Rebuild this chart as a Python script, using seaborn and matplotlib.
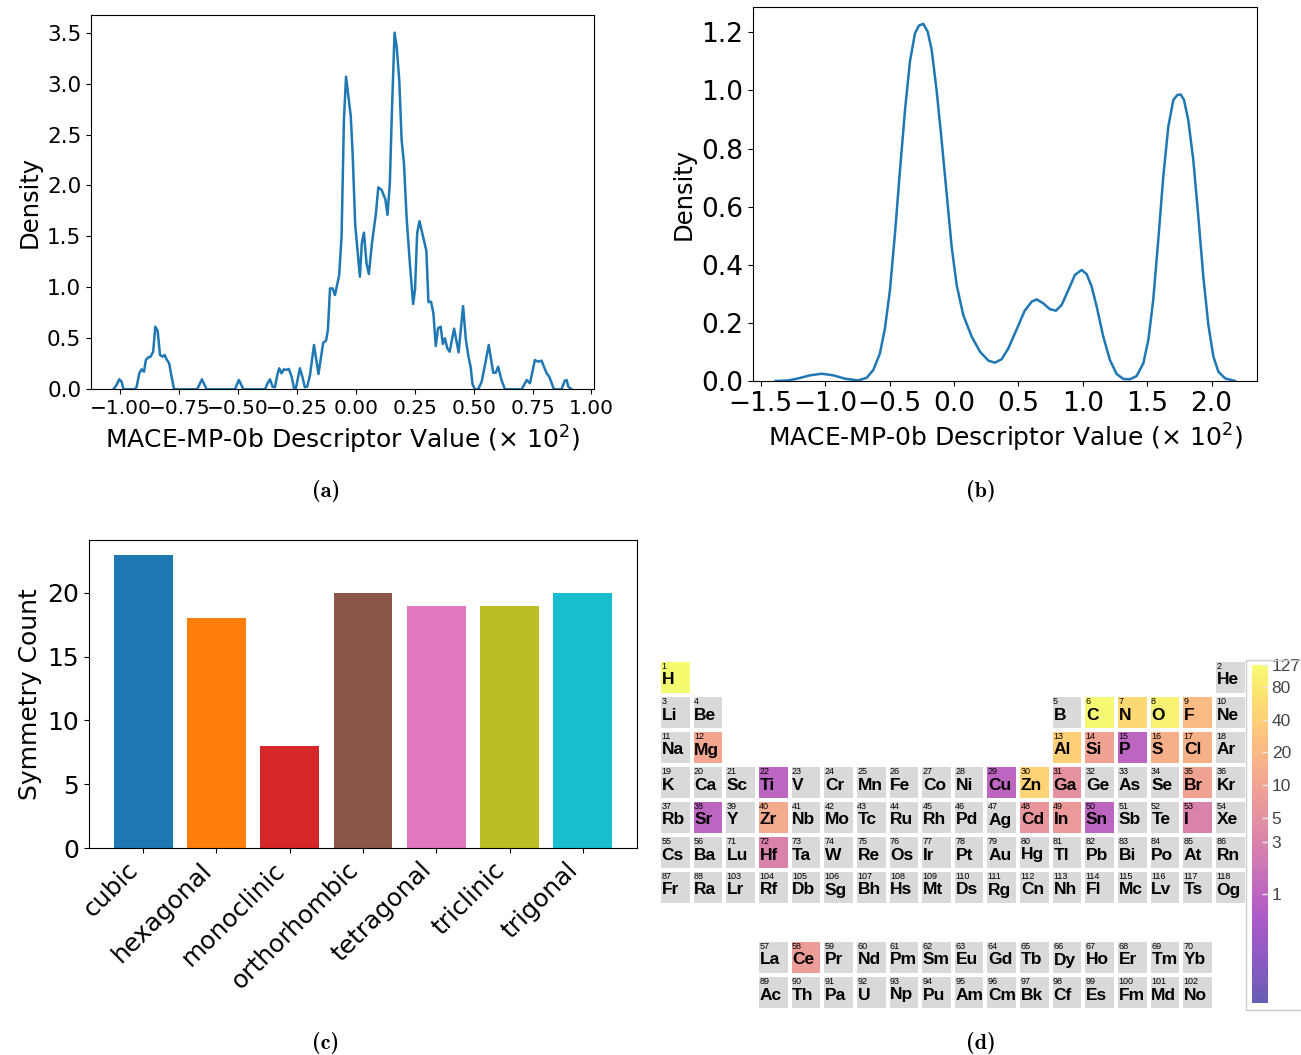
import os
import numpy as np
import pandas as pd
import matplotlib
matplotlib.use("Agg")
import matplotlib.pyplot as plt
import seaborn as sns
from matplotlib.colors import ListedColormap, LogNorm
from matplotlib.ticker import MultipleLocator, NullLocator
from matplotlib.patches import Rectangle
from matplotlib.font_manager import FontProperties

# ---------------- data ----------------
# (a) density curve
a_x = [-1.030, -1.017, -1.005, -0.995, -0.987, -0.938, -0.931, -0.920, -0.910, -0.900,
       -0.892, -0.882, -0.872, -0.861, -0.852, -0.842, -0.832, -0.821, -0.812, -0.804,
       -0.793, -0.783, -0.773, -0.767, -0.674, -0.664, -0.654, -0.644, -0.634, -0.514,
       -0.505, -0.497, -0.488, -0.478, -0.386, -0.375, -0.365, -0.354, -0.344, -0.334,
       -0.326, -0.316, -0.306, -0.294, -0.285, -0.273, -0.263, -0.256, -0.247, -0.238,
       -0.227, -0.217, -0.207, -0.195, -0.178, -0.159, -0.139, -0.127, -0.119, -0.110,
       -0.099, -0.089, -0.071, -0.061, -0.051, -0.042, -0.022, -0.014, -0.003, 0.017,
       0.025, 0.034, 0.045, 0.055, 0.068, 0.085, 0.095, 0.109, 0.125, 0.134,
       0.144, 0.153, 0.164, 0.173, 0.184, 0.194, 0.204, 0.215, 0.229, 0.243,
       0.251, 0.260, 0.270, 0.285, 0.299, 0.308, 0.319, 0.329, 0.339, 0.349,
       0.360, 0.369, 0.378, 0.388, 0.398, 0.417, 0.436, 0.455, 0.467, 0.478,
       0.487, 0.495, 0.505, 0.519, 0.534, 0.548, 0.564, 0.583, 0.594, 0.604,
       0.618, 0.633, 0.704, 0.725, 0.739, 0.760, 0.774, 0.788, 0.810, 0.821,
       0.841, 0.873, 0.887, 0.895, 0.902, 0.916]
a_y = [0.0, 0.040, 0.098, 0.075, 0.0, 0.0, 0.026, 0.157, 0.196, 0.173,
       0.287, 0.313, 0.320, 0.369, 0.614, 0.575, 0.337, 0.320, 0.337, 0.294,
       0.255, 0.124, 0.010, 0.0, 0.0, 0.050, 0.098, 0.050, 0.0, 0.0,
       0.050, 0.092, 0.050, 0.0, 0.0, 0.060, 0.098, 0.026, 0.020, 0.140,
       0.206, 0.157, 0.196, 0.190, 0.200, 0.124, 0.010, 0.0, 0.100, 0.206,
       0.120, 0.020, 0.026, 0.140, 0.435, 0.150, 0.458, 0.477, 0.582, 0.990,
       0.990, 0.925, 1.121, 1.497, 2.642, 3.068, 2.682, 2.316, 1.612, 1.105,
       1.432, 1.537, 1.236, 1.131, 1.432, 1.727, 1.982, 1.956, 1.864, 1.711,
       2.022, 2.741, 3.500, 3.363, 3.036, 2.447, 2.218, 1.694, 1.236, 0.837,
       0.980, 1.531, 1.650, 1.498, 1.360, 0.855, 0.860, 0.745, 0.425, 0.600,
       0.614, 0.445, 0.500, 0.402, 0.369, 0.595, 0.362, 0.817, 0.484, 0.320,
       0.222, 0.052, 0.0, 0.0, 0.075, 0.239, 0.435, 0.163, 0.163, 0.222,
       0.091, 0.0, 0.0, 0.091, 0.059, 0.287, 0.271, 0.281, 0.157, 0.124,
       0.0, 0.0, 0.085, 0.091, 0.026, 0.0]

# (b) density curve
b_x = [-1.385, -1.286, -1.209, -1.118, -1.027, -0.937, -0.846, -0.743, -0.678, -0.626,
       -0.575, -0.536, -0.497, -0.458, -0.419, -0.380, -0.342, -0.303, -0.272, -0.238,
       -0.204, -0.173, -0.135, -0.096, -0.057, -0.018, 0.021, 0.072, 0.137, 0.202,
       0.267, 0.318, 0.370, 0.422, 0.487, 0.548, 0.603, 0.642, 0.694, 0.745,
       0.792, 0.836, 0.888, 0.939, 0.991, 1.030, 1.069, 1.108, 1.159, 1.211,
       1.263, 1.315, 1.366, 1.418, 1.470, 1.509, 1.547, 1.586, 1.625, 1.664,
       1.703, 1.734, 1.760, 1.786, 1.819, 1.858, 1.897, 1.936, 1.975, 2.014,
       2.053, 2.105, 2.182]
b_y = [0.0, 0.002, 0.009, 0.0195, 0.025, 0.0195, 0.008, 0.002, 0.011, 0.038,
       0.095, 0.181, 0.313, 0.508, 0.726, 0.933, 1.099, 1.196, 1.223, 1.229,
       1.202, 1.139, 1.001, 0.829, 0.646, 0.462, 0.330, 0.227, 0.153, 0.101,
       0.070, 0.063, 0.075, 0.112, 0.178, 0.241, 0.273, 0.281, 0.267, 0.247,
       0.242, 0.262, 0.313, 0.365, 0.382, 0.368, 0.325, 0.256, 0.153, 0.072,
       0.024, 0.007, 0.006, 0.017, 0.061, 0.141, 0.279, 0.485, 0.703, 0.875,
       0.967, 0.984, 0.986, 0.967, 0.898, 0.761, 0.566, 0.359, 0.193, 0.084,
       0.032, 0.009, 0.0]

# (c) crystal systems
systems = ["cubic", "hexagonal", "monoclinic", "orthorhombic", "tetragonal", "triclinic", "trigonal"]
system_counts = [23, 18, 8, 20, 19, 19, 20]
system_colors = ["#1f77b4", "#ff7f0e", "#d62728", "#8c564b", "#e377c2", "#bcbd22", "#17becf"]

# (d) element counts
count_elements = ["H", "C", "O", "N", "Zn", "Al", "F", "Cl", "S", "Zr", "Mg", "Si", "Br",
                  "Ce", "In", "Cd", "Ga", "I", "Hf", "Cu", "P", "Sn", "Ti", "Sr"]
count_values = [127, 118, 100, 52, 45, 40, 22, 16, 15, 13, 11, 10, 10,
                8, 7, 6, 5, 3, 3, 1, 1, 1, 1, 1]
cbar_ticks = [1, 3, 5, 10, 20, 40, 80, 127]

symbols = ("H He Li Be B C N O F Ne Na Mg Al Si P S Cl Ar K Ca Sc Ti V Cr Mn Fe Co Ni Cu Zn "
           "Ga Ge As Se Br Kr Rb Sr Y Zr Nb Mo Tc Ru Rh Pd Ag Cd In Sn Sb Te I Xe Cs Ba La Ce "
           "Pr Nd Pm Sm Eu Gd Tb Dy Ho Er Tm Yb Lu Hf Ta W Re Os Ir Pt Au Hg Tl Pb Bi Po At Rn "
           "Fr Ra Ac Th Pa U Np Pu Am Cm Bk Cf Es Fm Md No Lr Rf Db Sg Bh Hs Mt Ds Rg Cn Nh Fl "
           "Mc Lv Ts Og").split()


def ptable_pos(z):
    """(row, col) 0-based layout of the periodic table used in the figure."""
    if z == 1:
        return 0, 0
    if z == 2:
        return 0, 17
    if z <= 10:
        return 1, (z - 3) if z <= 4 else (z - 5 + 12)
    if z <= 18:
        return 2, (z - 11) if z <= 12 else (z - 13 + 12)
    if z <= 36:
        return 3, z - 19
    if z <= 54:
        return 4, z - 37
    if z <= 56:
        return 5, z - 55
    if 57 <= z <= 70:
        return 8, z - 57 + 3
    if z == 71:
        return 5, 2
    if z <= 86:
        return 5, z - 72 + 3
    if z <= 88:
        return 6, z - 87
    if 89 <= z <= 102:
        return 9, z - 89 + 3
    if z == 103:
        return 6, 2
    return 6, z - 104 + 3


# ---------------- figure ----------------
W, H = 1301, 1055
fig = plt.figure(figsize=(W / 100, H / 100), dpi=100)
fig.patch.set_facecolor("white")


def add_ax(l, t, r, b):
    return fig.add_axes([l / W, 1 - b / H, (r - l) / W, (b - t) / H])


blue = "#1f77b4"

# (a)
axa = add_ax(91, 14.7, 594, 389.3)
sns.lineplot(x=a_x, y=a_y, ax=axa, color=blue, lw=1.8)
axa.set_xlim(-1.125, 1.011)
axa.set_ylim(0, 3.676)
axa.xaxis.set_major_locator(MultipleLocator(0.25))
axa.yaxis.set_major_locator(MultipleLocator(0.5))
axa.tick_params(axis="y", labelsize=15.5)
axa.tick_params(axis="x", labelsize=14.5)
axa.set_xlabel(r"MACE-MP-0b Descriptor Value ($\times$ 10$^2$)", fontsize=18)
axa.set_ylabel("Density", fontsize=17.5)

# (b)
axb = add_ax(753.3, 6.7, 1257.3, 381)
sns.lineplot(x=b_x, y=b_y, ax=axb, color=blue, lw=1.8)
axb.set_xlim(-1.558, 2.355)
axb.set_ylim(0, 1.288)
axb.xaxis.set_major_locator(MultipleLocator(0.5))
axb.yaxis.set_major_locator(MultipleLocator(0.2))
axb.tick_params(labelsize=19)
axb.set_xlabel(r"MACE-MP-0b Descriptor Value ($\times$ 10$^2$)", fontsize=18)
axb.set_ylabel("Density", fontsize=17.5)

# (c)
axc = add_ax(89, 540, 637, 848)
df_c = pd.DataFrame({"system": systems, "count": system_counts})
sns.barplot(data=df_c, x="system", y="count", hue="system", palette=system_colors,
            saturation=1, width=0.8, legend=False, ax=axc)
axc.set_xlim(-0.74, 6.74)
axc.set_ylim(0, 24.15)
axc.yaxis.set_major_locator(MultipleLocator(5))
axc.tick_params(labelsize=18)
axc.set_xlabel("")
axc.set_ylabel("Symmetry Count", fontsize=18)
plt.setp(axc.get_xticklabels(), rotation=45, ha="right")

# (d) periodic table heatmap
nrows, ncols = 10, 18
present = np.zeros((nrows, ncols), dtype=bool)
grid = np.full((nrows, ncols), np.nan)
count_map = dict(zip(count_elements, count_values))
for z, sym in enumerate(symbols, start=1):
    r, c = ptable_pos(z)
    present[r, c] = True
    if sym in count_map:
        grid[r, c] = count_map[sym]

gray_df = pd.DataFrame(np.where(present, 1.0, np.nan))
count_df = pd.DataFrame(grid)

base = plt.get_cmap("plasma")(np.linspace(0, 1, 256))[:, :3]
alpha = 0.65
cmap_soft = ListedColormap(base * alpha + (1 - alpha))

axd = add_ax(659, 660, 659 + 18 * 32.65, 1010)
cax = add_ax(1251.5, 665, 1267.5, 1003.3)

sns.heatmap(gray_df, mask=~present, cmap=ListedColormap(["#d9d9d9"]), cbar=False,
            linewidths=1.5, linecolor="white", xticklabels=False, yticklabels=False, ax=axd)
sns.heatmap(count_df, mask=np.isnan(grid), cmap=cmap_soft, norm=LogNorm(vmin=0.1, vmax=127),
            cbar=True, cbar_ax=cax, linewidths=1.5, linecolor="white",
            xticklabels=False, yticklabels=False, ax=axd)
axd.set_xlim(0, ncols)
axd.set_ylim(nrows, 0)
axd.set_facecolor("white")
for s in axd.spines.values():
    s.set_visible(False)

for z, sym in enumerate(symbols, start=1):
    r, c = ptable_pos(z)
    axd.text(c + 0.07, r + 0.27, str(z), fontsize=6.5, family="Liberation Sans",
             va="baseline", ha="left", color="black")
    axd.text(c + 0.08, r + 0.70, sym, fontsize=12.5, family="Liberation Sans",
             weight="bold", va="baseline", ha="left", color="black")

cbar = axd.collections[-1].colorbar
cbar.outline.set_visible(False)
cbar.set_ticks(cbar_ticks)
cbar.set_ticklabels([str(t) for t in cbar_ticks])
cax.yaxis.set_minor_locator(NullLocator())
cax.tick_params(axis="y", direction="in", length=4, width=1, color="#e8e8e8",
                labelsize=12.5, labelcolor="#444444", pad=3)
for lbl in cax.get_yticklabels():
    lbl.set_family("Liberation Sans")

fig.add_artist(Rectangle(((1245.5) / W, 1 - 1010 / H), 70 / W, 350 / H,
                         transform=fig.transFigure, fill=False, edgecolor="#cccccc", lw=1))

# captions (Computer Modern bold)
cmb_path = os.path.join(matplotlib.get_data_path(), "fonts", "ttf", "cmb10.ttf")
if os.path.exists(cmb_path):
    cap_font = FontProperties(fname=cmb_path, size=16)
else:
    cap_font = FontProperties(family="DejaVu Serif", weight="bold", size=14)
for txt, x, y in [("(a)", 326, 491), ("(b)", 981, 491), ("(c)", 326, 1043), ("(d)", 981, 1043)]:
    fig.text(x / W, 1 - y / H, txt, ha="center", va="center", fontproperties=cap_font)

fig.savefig("out.png", dpi=100, facecolor="white")
